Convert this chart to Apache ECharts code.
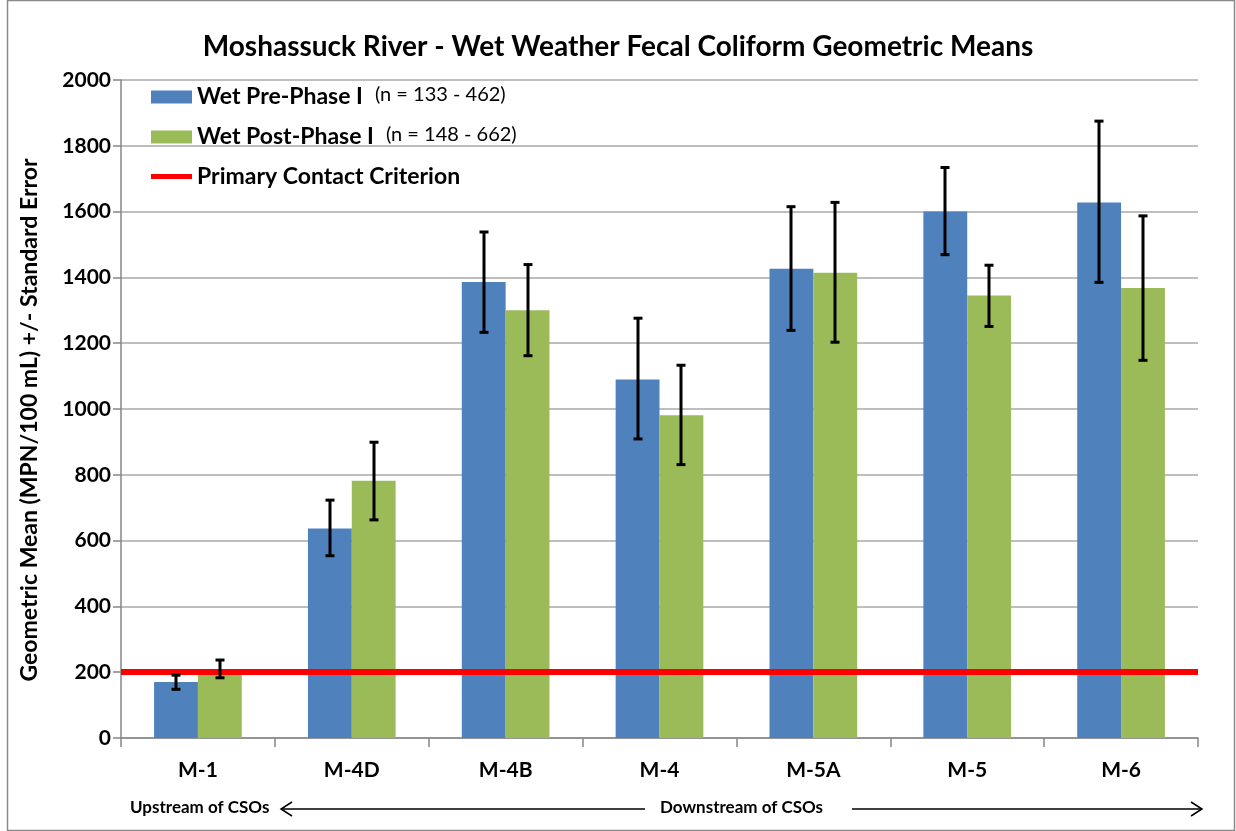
<!DOCTYPE html>
<html>
<head>
<meta charset="utf-8">
<script src="https://cdn.jsdelivr.net/npm/echarts@6/dist/echarts.min.js"></script>
<style>
  html, body { margin: 0; padding: 0; background: #fff; }
  #chart { width: 1236px; height: 831px; }
</style>
</head>
<body>
<div id="chart"></div>
<script>
// Sampling stations, upstream to downstream
const categories = ['M-1', 'M-4D', 'M-4B', 'M-4', 'M-5A', 'M-5', 'M-6'];

// Wet weather fecal coliform geometric means (MPN/100 mL)
const preMean  = [170, 637, 1386, 1090, 1426, 1600, 1628];
const preLow   = [148, 554, 1233, 909, 1239, 1469, 1385];
const preHigh  = [191, 723, 1538, 1276, 1615, 1734, 1875];

const postMean = [200, 782, 1300, 981, 1414, 1345, 1368];
const postLow  = [183, 663, 1162, 831, 1203, 1251, 1148];
const postHigh = [237, 899, 1439, 1133, 1628, 1437, 1587];

const criterion = 200;

const seriesNames = ['Wet Pre-Phase I', 'Wet Post-Phase I', 'Primary Contact Criterion'];
const sampleNotes = ['(n = 133 - 462)', '(n = 148 - 662)', ''];

const yTicks = { min: 0, max: 2000, interval: 200 };

const FONT = 'Lato, "Open Sans", sans-serif';
const BLUE = '#4F81BD';
const GREEN = '#9BBB59';
const RED = '#ff0000';
const CAT_GAP = 0.43;

// Error bar drawn at the centre of one bar in a two-bar group
function errorBars(low, high, side) {
  return {
    type: 'custom',
    z: 6,
    silent: true,
    data: categories.map((c, i) => [i, low[i], high[i]]),
    renderItem: function (params, api) {
      const band = api.size([1, 0])[0];
      const off = side * band * (1 - CAT_GAP) / 4;
      const lo = api.coord([api.value(0), api.value(1)]);
      const hi = api.coord([api.value(0), api.value(2)]);
      const x = Math.round(lo[0] + off);
      const cap = 4.5;
      const style = { stroke: '#000', lineWidth: 3, lineCap: 'butt' };
      return {
        type: 'group',
        children: [
          { type: 'line', shape: { x1: x, y1: hi[1], x2: x, y2: lo[1] }, style: style },
          { type: 'line', shape: { x1: x - cap, y1: hi[1], x2: x + cap, y2: hi[1] }, style: style },
          { type: 'line', shape: { x1: x - cap, y1: lo[1], x2: x + cap, y2: lo[1] }, style: style }
        ]
      };
    }
  };
}

const chart = echarts.init(document.getElementById('chart'), null, { renderer: 'canvas' });

const option = {
  backgroundColor: '#fff',
  animation: false,
  title: {
    text: 'Moshassuck River - Wet Weather Fecal Coliform Geometric Means',
    left: 'center',
    top: 28,
    textStyle: { fontFamily: FONT, fontWeight: 'bold', fontSize: 28, color: '#000' }
  },
  legend: {
    orient: 'vertical',
    left: 151,
    top: 85,
    padding: 0,
    itemWidth: 41,
    itemHeight: 13,
    itemGap: 16,
    data: [
      { name: seriesNames[0], icon: 'rect' },
      { name: seriesNames[1], icon: 'rect' },
      { name: seriesNames[2], icon: 'path://M0,0 L41,0 L41,5 L0,5 Z' }
    ],
    formatter: function (name) {
      const i = seriesNames.indexOf(name);
      return sampleNotes[i] ? '{b|' + name + '}{n|' + sampleNotes[i] + '}' : '{b|' + name + '}';
    },
    textStyle: {
      rich: {
        b: { fontFamily: FONT, fontWeight: 'bold', fontSize: 23, color: '#000', lineHeight: 27 },
        n: { fontFamily: FONT, fontSize: 20, color: '#000', lineHeight: 27, padding: [0, 0, 4, 12] }
      }
    }
  },
  grid: { left: 121, right: 38, top: 80, bottom: 93 },
  xAxis: {
    type: 'category',
    data: categories,
    axisLine: { lineStyle: { color: '#868686', width: 1.5 } },
    axisTick: { show: true, length: 9, lineStyle: { color: '#868686', width: 1.5 } },
    axisLabel: { fontFamily: FONT, fontWeight: 'bold', fontSize: 21, color: '#000', margin: 22 }
  },
  yAxis: {
    type: 'value',
    min: yTicks.min,
    max: yTicks.max,
    interval: yTicks.interval,
    axisLine: { show: true, lineStyle: { color: '#868686', width: 1.5 } },
    axisTick: { show: true, length: 8, lineStyle: { color: '#868686', width: 1.5 } },
    axisLabel: {
      fontFamily: FONT, fontWeight: 'bold', fontSize: 21, color: '#000', margin: 10,
      formatter: function (v) { return String(v); }
    },
    splitLine: { lineStyle: { color: '#a8a8a8', width: 1.5 } }
  },
  series: [
    {
      name: seriesNames[0],
      type: 'bar',
      data: preMean,
      barGap: '0%',
      barCategoryGap: (CAT_GAP * 100) + '%',
      itemStyle: { color: BLUE },
      z: 2
    },
    {
      name: seriesNames[1],
      type: 'bar',
      data: postMean,
      barGap: '0%',
      barCategoryGap: (CAT_GAP * 100) + '%',
      itemStyle: { color: GREEN },
      z: 2
    },
    {
      name: seriesNames[2],
      type: 'line',
      data: [],
      symbol: 'none',
      itemStyle: { color: RED },
      lineStyle: { color: RED, width: 5 },
      z: 4,
      markLine: {
        silent: true,
        symbol: ['none', 'none'],
        label: { show: false },
        lineStyle: { color: RED, width: 6, type: 'solid' },
        data: [{ yAxis: criterion }]
      }
    },
    errorBars(preLow, preHigh, -1),
    errorBars(postLow, postHigh, 1)
  ],
  graphic: [
    {
      type: 'rect',
      shape: { x: 7.5, y: 0.5, width: 1227, height: 830 },
      style: { fill: 'none', stroke: '#8a8a8a', lineWidth: 1.5 },
      silent: true
    },
    {
      type: 'text',
      x: 30,
      y: 420,
      rotation: Math.PI / 2,
      style: {
        text: 'Geometric Mean (MPN/100 mL) +/- Standard Error',
        font: 'bold 23px ' + FONT,
        fill: '#000',
        align: 'center',
        verticalAlign: 'middle'
      }
    },
    {
      type: 'text',
      left: 130,
      top: 799,
      style: { text: 'Upstream of CSOs', font: 'bold 17px ' + FONT, fill: '#000' }
    },
    {
      type: 'text',
      left: 660,
      top: 799,
      style: { text: 'Downstream of CSOs', font: 'bold 17px ' + FONT, fill: '#000' }
    },
    {
      type: 'polyline',
      shape: { points: [[645, 809], [281, 809]] },
      style: { stroke: '#000', lineWidth: 1.5, fill: 'none' }
    },
    {
      type: 'polyline',
      shape: { points: [[292, 802], [281, 809], [292, 816]] },
      style: { stroke: '#000', lineWidth: 1.5, fill: 'none' }
    },
    {
      type: 'polyline',
      shape: { points: [[852, 809], [1202, 809]] },
      style: { stroke: '#000', lineWidth: 1.5, fill: 'none' }
    },
    {
      type: 'polyline',
      shape: { points: [[1191, 802], [1202, 809], [1191, 816]] },
      style: { stroke: '#000', lineWidth: 1.5, fill: 'none' }
    }
  ]
};

chart.setOption(option);
</script>
</body>
</html>
